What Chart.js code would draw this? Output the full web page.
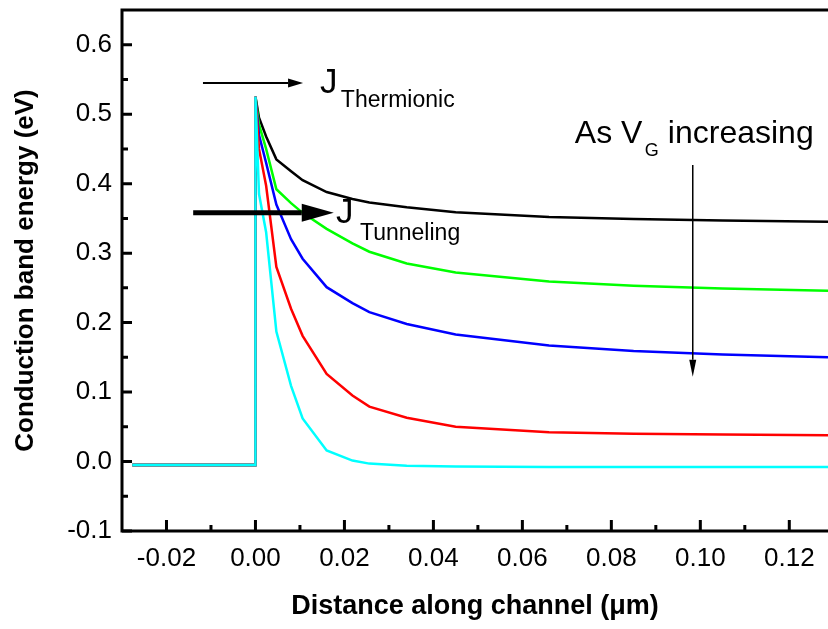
<!DOCTYPE html>
<html>
<head>
<meta charset="utf-8">
<script src="https://cdn.jsdelivr.net/npm/chart.js@4.4.0/dist/chart.umd.min.js"></script>
<style>
  html, body { margin: 0; padding: 0; background: #fff; }
</style>
</head>
<body>
<canvas id="chart" width="828" height="629"></canvas>
<script>
// positions along the channel (um), shared by all curves
const xPos = [-0.0277, 0, 0, 0.0008, 0.0024, 0.0047, 0.008, 0.0106, 0.016, 0.0218, 0.0256, 0.034, 0.045, 0.066, 0.085, 0.105, 0.1287];

// conduction band energy (eV), one curve per gate voltage
const blackCurve = [-0.005, -0.005, 0.525, 0.495, 0.468, 0.435, 0.418, 0.405, 0.388, 0.378, 0.373, 0.366, 0.359, 0.352, 0.349, 0.347, 0.345];
const greenCurve = [-0.005, -0.005, 0.525, 0.485, 0.450, 0.392, 0.372, 0.358, 0.335, 0.314, 0.302, 0.285, 0.272, 0.259, 0.253, 0.249, 0.246];
const blueCurve  = [-0.005, -0.005, 0.525, 0.470, 0.430, 0.370, 0.320, 0.292, 0.251, 0.228, 0.215, 0.198, 0.183, 0.167, 0.159, 0.154, 0.150];
const redCurve   = [-0.005, -0.005, 0.525, 0.450, 0.397, 0.280, 0.220, 0.181, 0.126, 0.095, 0.079, 0.063, 0.050, 0.042, 0.040, 0.039, 0.038];
const cyanCurve  = [-0.005, -0.005, 0.525, 0.385, 0.330, 0.187, 0.109, 0.062, 0.016, 0.0014, -0.003, -0.006, -0.007, -0.008, -0.008, -0.008, -0.008];

const xTicks = [-0.02, 0.00, 0.02, 0.04, 0.06, 0.08, 0.10, 0.12];
const xMinor = [-0.01, 0.01, 0.03, 0.05, 0.07, 0.09, 0.11];
const yTicks = [-0.1, 0.0, 0.1, 0.2, 0.3, 0.4, 0.5, 0.6];
const yMinor = [-0.05, 0.05, 0.15, 0.25, 0.35, 0.45, 0.55];

const FONT = "'Liberation Sans', Arial, sans-serif";

function pts(ys) {
    return xPos.map((x, i) => ({ x: x, y: ys[i] }));
}

function arrow(ctx, x1, y1, x2, y2, lw, headLen, headHalf) {
    const ang = Math.atan2(y2 - y1, x2 - x1);
    const bx = x2 - headLen * Math.cos(ang), by = y2 - headLen * Math.sin(ang);
    ctx.lineWidth = lw;
    ctx.beginPath();
    ctx.moveTo(x1, y1);
    ctx.lineTo(bx, by);
    ctx.stroke();
    ctx.beginPath();
    ctx.moveTo(x2, y2);
    ctx.lineTo(bx + headHalf * Math.sin(ang), by - headHalf * Math.cos(ang));
    ctx.lineTo(bx - headHalf * Math.sin(ang), by + headHalf * Math.cos(ang));
    ctx.closePath();
    ctx.fill();
}

// box frame + inward ticks, drawn on top of the curves
const framePlugin = {
    id: "frame",
    afterDatasetsDraw(chart) {
        const { ctx, chartArea: a, scales } = chart;
        const sx = scales.x, sy = scales.y;
        ctx.save();
        ctx.strokeStyle = "#000";
        ctx.lineWidth = 3;
        ctx.beginPath();
        ctx.moveTo(a.right + 2, a.top);
        ctx.lineTo(a.left, a.top);
        ctx.lineTo(a.left, a.bottom);
        ctx.lineTo(a.right + 2, a.bottom);
        ctx.stroke();
        ctx.beginPath();
        xTicks.forEach(v => { const p = sx.getPixelForValue(v); ctx.moveTo(p, a.bottom); ctx.lineTo(p, a.bottom - 11); });
        xMinor.forEach(v => { const p = sx.getPixelForValue(v); ctx.moveTo(p, a.bottom); ctx.lineTo(p, a.bottom - 6); });
        yTicks.forEach(v => { const p = sy.getPixelForValue(v); ctx.moveTo(a.left, p); ctx.lineTo(a.left + 10, p); });
        yMinor.forEach(v => { const p = sy.getPixelForValue(v); ctx.moveTo(a.left, p); ctx.lineTo(a.left + 6, p); });
        ctx.stroke();
        ctx.restore();
    },
    afterDraw(chart) {
        const { ctx, scales } = chart;
        const X = v => scales.x.getPixelForValue(v);
        const Y = v => scales.y.getPixelForValue(v);
        ctx.save();
        ctx.strokeStyle = "#000";
        ctx.fillStyle = "#000";
        ctx.textBaseline = "alphabetic";
        ctx.textAlign = "left";

        // J thermionic
        arrow(ctx, X(-0.0118), Y(0.545), X(0.0107), Y(0.545), 2, 15, 4.5);
        ctx.font = "35px " + FONT;
        ctx.fillText("J", X(0.0145), Y(0.530));
        ctx.font = "23px " + FONT;
        ctx.fillText("Thermionic", X(0.0192), Y(0.510));

        // J tunneling
        arrow(ctx, X(-0.0140), Y(0.358), X(0.0176), Y(0.358), 5, 32, 9);
        ctx.font = "35px " + FONT;
        ctx.fillText("J", X(0.0181), Y(0.343));
        ctx.font = "23px " + FONT;
        ctx.fillText("Tunneling", X(0.0235), Y(0.319));

        // As VG increasing
        ctx.font = "32px " + FONT;
        ctx.fillText("As V", X(0.0718), Y(0.458));
        ctx.font = "18px " + FONT;
        ctx.fillText("G", X(0.0875), Y(0.440));
        ctx.font = "32px " + FONT;
        ctx.fillText("increasing", X(0.0927), Y(0.458));
        arrow(ctx, X(0.0983), Y(0.427), X(0.0983), Y(0.122), 1.5, 17, 3.5);
        ctx.restore();
    }
};

const ctx = document.getElementById("chart").getContext("2d");
new Chart(ctx, {
    type: "line",
    data: {
        datasets: [
            { data: pts(cyanCurve), borderColor: "#00ffff" },
            { data: pts(redCurve), borderColor: "#ff0000" },
            { data: pts(blueCurve), borderColor: "#0000ff" },
            { data: pts(greenCurve), borderColor: "#00ff00" },
            { data: pts(blackCurve), borderColor: "#000000" },
        ],
    },
    options: {
        responsive: false,
        animation: false,
        devicePixelRatio: 1,
        layout: { padding: { top: 10, right: 0, left: 0, bottom: 0 } },
        elements: {
            line: { borderWidth: 2.5, tension: 0, fill: false },
            point: { radius: 0 },
        },
        plugins: {
            legend: { display: false },
            tooltip: { enabled: false },
        },
        scales: {
            x: {
                type: "linear",
                min: -0.03,
                max: 0.1287,
                grid: { display: false, drawTicks: false },
                border: { display: false },
                afterBuildTicks: s => { s.ticks = xTicks.map(v => ({ value: v })); },
                afterFit: s => { s.height = 98; s.paddingLeft = 0; s.paddingRight = 0; },
                ticks: {
                    padding: 12,
                    color: "#000",
                    font: { family: FONT, size: 26 },
                    maxRotation: 0,
                    callback: v => v.toFixed(2),
                },
                title: {
                    display: true,
                    text: "Distance along channel (\u03bcm)",
                    color: "#000",
                    font: { family: FONT, size: 27, weight: "bold" },
                    padding: { top: 0, bottom: 6 },
                },
            },
            y: {
                min: -0.1,
                max: 0.65,
                grid: { display: false, drawTicks: false },
                border: { display: false },
                afterBuildTicks: s => { s.ticks = yTicks.map(v => ({ value: v })); },
                afterFit: s => { s.width = 122; s.paddingTop = 0; s.paddingBottom = 0; },
                ticks: {
                    padding: 10,
                    color: "#000",
                    font: { family: FONT, size: 26 },
                    callback: v => v.toFixed(1),
                },
                title: {
                    display: true,
                    text: "Conduction band energy (eV)",
                    color: "#000",
                    font: { family: FONT, size: 26, weight: "bold" },
                    padding: { top: 10, bottom: 0 },
                },
            },
        },
    },
    plugins: [framePlugin],
});
</script>
</body>
</html>
